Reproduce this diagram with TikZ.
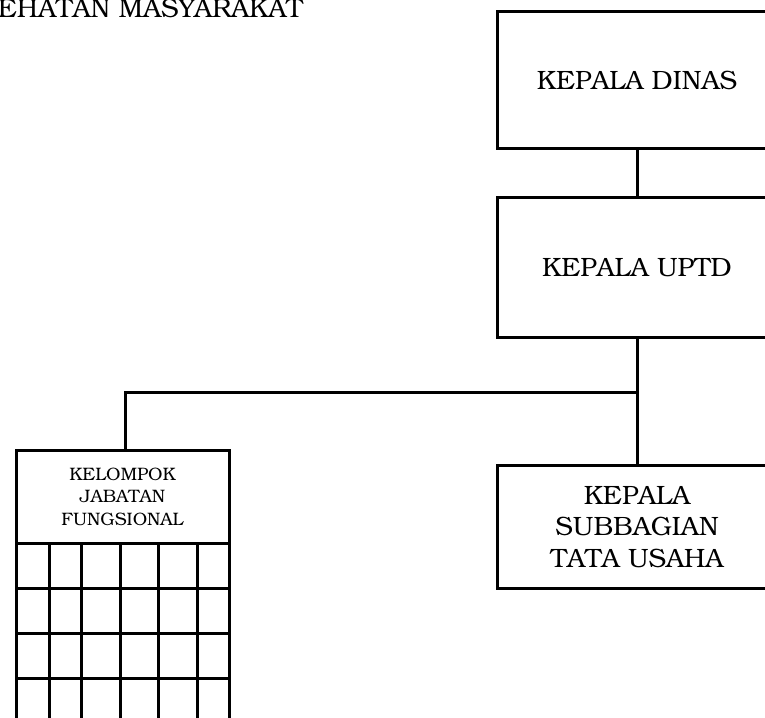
\documentclass[tikz,border=0pt]{standalone}
\usepackage[T1]{fontenc}
\usepackage{bookman}
\begin{document}
\begin{tikzpicture}[x=1pt,y=-1pt,
  ln/.style={line width=3pt,line cap=rect},
  bigbox/.style={draw,line width=3pt,minimum width=280pt,inner sep=0pt,align=center,font=\fontsize{26.5}{31.5}\selectfont},
  smallbox/.style={draw,line width=3pt,minimum width=213pt,minimum height=93pt,inner sep=0pt,align=center,font=\fontsize{18}{22.5}\selectfont}]
\useasboundingbox (0,0) rectangle (765,717);
\node[anchor=base east,font=\fontsize{26.5}{30}\selectfont,inner sep=0pt] (title) at (303,18) {EHATAN MASYARAKAT};
\node[bigbox,minimum height=136pt] (dinas) at (637,80) {KEPALA DINAS};
\node[bigbox,minimum height=140pt] (uptd) at (637,267) {KEPALA UPTD};
\node[bigbox,minimum height=123pt] (tu) at (637,526.5) {KEPALA\\SUBBAGIAN\\TATA USAHA};
\node[smallbox] (jf) at (122.5,496.5) {KELOMPOK\\JABATAN\\FUNGSIONAL};
\coordinate (j) at (637,392);
\coordinate (jl) at (125,392);
\draw[ln] (dinas.south) -- (uptd.north);
\draw[ln] (uptd.south) -- (tu.north);
\draw[ln] (j) -- (jl) -- (jl |- jf.north);
% grid below the header
\foreach \yy in {588,633,678}
  \draw[ln] (16,\yy) -- (229,\yy);
\foreach \xx in {16,49,81,120,158,197,229}
  \draw[ln] (\xx,543) -- (\xx,725);
\end{tikzpicture}
\end{document}
